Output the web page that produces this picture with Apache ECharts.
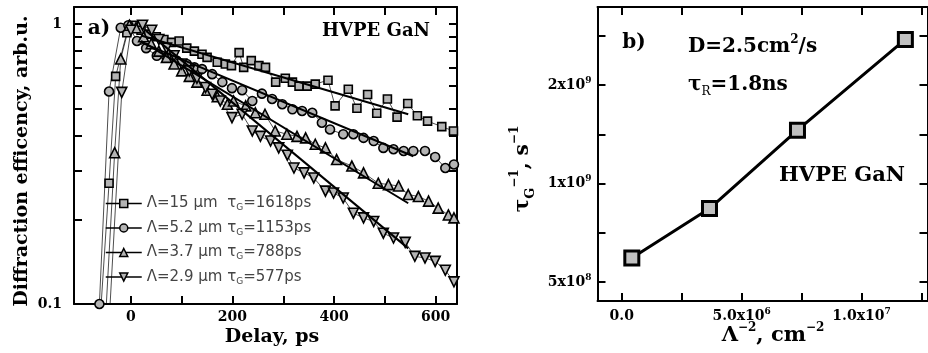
<!DOCTYPE html>
<html>
<head>
<meta charset="utf-8">
<script src="https://cdn.jsdelivr.net/npm/echarts@6/dist/echarts.min.js"></script>
<style>
  html, body { margin: 0; padding: 0; background: #fff; }
  #chart { width: 928px; height: 353px; }
</style>
</head>
<body>
<div id="chart"></div>
<script>
// panel a) : diffraction efficiency vs delay (ps), one series per grating period
const sqDelay = [-62, -43, -30, -8, 5, 20, 35, 50, 65, 80, 95, 110, 125, 140, 150, 170, 186, 198, 213, 222, 237, 252, 265, 285, 304, 318, 331, 347, 363, 388, 402, 428, 445, 466, 484, 505, 524, 545, 564, 584, 612, 635]
const sqSignal = [0.08, 0.27, 0.65, 0.93, 0.99, 0.95, 0.92, 0.9, 0.88, 0.86, 0.87, 0.82, 0.8, 0.78, 0.76, 0.73, 0.72, 0.71, 0.79, 0.7, 0.74, 0.71, 0.7, 0.62, 0.64, 0.62, 0.6, 0.6, 0.61, 0.63, 0.51, 0.585, 0.5, 0.56, 0.48, 0.54, 0.465, 0.52, 0.47, 0.45, 0.43, 0.415]

const ciDelay = [-62, -43, -20, -5, 12, 30, 51, 70, 90, 110, 125, 140, 160, 180, 199, 219, 239, 258, 278, 298, 318, 337, 357, 376, 392, 418, 438, 458, 478, 497, 517, 537, 556, 579, 599, 619, 636]
const ciSignal = [0.1, 0.574, 0.97, 0.99, 0.87, 0.82, 0.77, 0.76, 0.74, 0.72, 0.7, 0.69, 0.662, 0.62, 0.59, 0.58, 0.531, 0.564, 0.54, 0.517, 0.496, 0.489, 0.482, 0.444, 0.42, 0.404, 0.404, 0.392, 0.382, 0.361, 0.357, 0.352, 0.352, 0.352, 0.335, 0.306, 0.315]

const upDelay = [-55, -32, -20, -3, 10, 25, 40, 55, 70, 85, 100, 115, 130, 150, 170, 190, 202, 226, 245, 264, 284, 307, 327, 344, 363, 383, 405, 435, 458, 487, 507, 527, 546, 566, 586, 605, 625, 636]
const upSignal = [0.06, 0.347, 0.75, 0.99, 0.97, 0.9, 0.85, 0.8, 0.76, 0.72, 0.68, 0.65, 0.62, 0.58, 0.55, 0.517, 0.531, 0.51, 0.482, 0.476, 0.415, 0.404, 0.397, 0.392, 0.372, 0.361, 0.328, 0.311, 0.294, 0.27, 0.267, 0.264, 0.246, 0.242, 0.233, 0.22, 0.208, 0.203]

const dnDelay = [-50, -18, 0, 23, 41, 55, 70, 85, 100, 115, 130, 147, 160, 176, 199, 219, 239, 255, 275, 291, 308, 321, 341, 360, 383, 399, 418, 438, 458, 478, 497, 517, 540, 559, 579, 599, 619, 636]
const dnSignal = [0.05, 0.57, 0.95, 0.99, 0.95, 0.88, 0.82, 0.77, 0.72, 0.68, 0.64, 0.593, 0.561, 0.531, 0.463, 0.476, 0.415, 0.397, 0.382, 0.361, 0.34, 0.306, 0.294, 0.282, 0.253, 0.249, 0.239, 0.211, 0.203, 0.197, 0.179, 0.172, 0.166, 0.148, 0.146, 0.142, 0.132, 0.12]

// exponential fits, end points only
const sqFitDelay = [20, 546], sqFitSignal = [0.91, 0.476]
const ciFitDelay = [20, 556], ciFitSignal = [0.86, 0.337]
const upFitDelay = [20, 546], upFitSignal = [0.87, 0.229]
const dnFitDelay = [30, 546], dnFitSignal = [0.945, 0.158]

const periods = ['15', '5.2', '3.7', '2.9']
const gratingTimes = ['1618', '1153', '788', '577']

const delayTicks = [0, 100, 200, 300, 400, 500, 600]
const delayLabels = [0, 200, 400, 600]
const signalTicks = [0.1, 0.2, 0.3, 0.4, 0.5, 0.6, 0.7, 0.8, 0.9, 1]
const signalLabels = [0.1, 1]

// panel b) : grating decay rate vs inverse period squared
const invPeriodSq = [4.2e5, 3.66e6, 7.33e6, 1.183e7]
const decayRate = [6.22e8, 8.73e8, 1.271e9, 1.732e9]

const invTicks = [0, 2.5e6, 5e6, 7.5e6, 1e7, 1.25e7]
const invLabelValues = [0, 5e6, 1e7]
const invLabelTexts = ['0.0', '5.0x10^6', '1.0x10^7']
const rateTicks = [5e8, 7.5e8, 1e9, 1.25e9, 1.5e9, 1.75e9]
const rateLabelValues = [5e8, 1e9, 1.5e9]
const rateLabelTexts = ['5x10^8', '1x10^9', '2x10^9']

const SERIF = 'DejaVu Serif'
const SANS = 'DejaVu Sans'

const zip = (a, b) => a.map((v, i) => [v, b[i]])
const supText = s => {
  const i = s.indexOf('^')
  return i < 0 ? '{m|' + s + '}' : '{m|' + s.slice(0, i) + '}{p|' + s.slice(i + 1) + '}'
}
const tickRich = {
  m: { fontFamily: SERIF, fontWeight: 'bold', fontSize: 14, lineHeight: 18, color: '#000' },
  p: { fontFamily: SERIF, fontWeight: 'bold', fontSize: 9, lineHeight: 9, verticalAlign: 'top', color: '#000' },
}
const pickLabel = (vals, texts) => v => {
  const i = vals.findIndex(x => Math.abs(x - v) <= Math.abs(x) * 1e-6 + 1e-9)
  return i < 0 ? '' : supText(texts[i])
}

const lineBlack = { color: '#000', width: 2 }
const tickStyle = { inside: true, length: 8, lineStyle: { color: '#000', width: 2 } }

function frameAxis(grid, type, pos, min, max, ticks, labels, extra) {
  return Object.assign({
    gridIndex: grid, type: type, position: pos, min: min, max: max,
    axisLine: { onZero: false, lineStyle: lineBlack },
    axisTick: Object.assign({ customValues: ticks }, tickStyle),
    axisLabel: labels ? Object.assign({ customValues: labels, rich: tickRich }, extra) : { show: false },
    splitLine: { show: false }, minorTick: { show: false },
  }, {})
}

const dataItem = { color: '#b4b4b4', borderColor: '#000', borderWidth: 1.6 }
const dataLine = { color: '#000', width: 0.7 }
function dataSeries(name, delay, signal, symbol, size) {
  return {
    name: name, type: 'line', xAxisIndex: 0, yAxisIndex: 0,
    data: zip(delay, signal), symbol: symbol, symbolSize: size,
    itemStyle: dataItem, lineStyle: dataLine, z: 3,
  }
}
function fitSeries(delay, signal) {
  return {
    type: 'line', xAxisIndex: 0, yAxisIndex: 0, data: zip(delay, signal),
    symbol: 'none', lineStyle: { color: '#000', width: 2 }, z: 5, silent: true,
  }
}

const names = periods.map(p => 'Λ=' + p + ' μm')
const downTri = 'path://M0,0L10,0L5,10Z'

const chart = echarts.init(document.getElementById('chart'))
chart.setOption({
  animation: false,
  backgroundColor: '#fff',
  grid: [
    { left: 74, top: 7, width: 383, height: 297, outerBoundsMode: 'none' },
    { left: 597.5, top: 7, width: 330, height: 294, outerBoundsMode: 'none' },
  ],
  xAxis: [
    frameAxis(0, 'value', 'bottom', -112, 642, delayTicks, delayLabels,
      { margin: 4, formatter: v => '{m|' + v + '}' }),
    frameAxis(0, 'value', 'top', -112, 642, delayTicks, null),
    frameAxis(1, 'value', 'bottom', -1.011e6, 1.2753e7, invTicks, invLabelValues,
      { margin: 6, formatter: pickLabel(invLabelValues, invLabelTexts) }),
    frameAxis(1, 'value', 'top', -1.011e6, 1.2753e7, invTicks, null),
  ],
  yAxis: [
    frameAxis(0, 'log', 'left', 0.1, 1.15, signalTicks, signalLabels,
      { margin: 12, formatter: v => '{m|' + (v < 0.5 ? '0.1' : '1') + '}' }),
    frameAxis(0, 'log', 'right', 0.1, 1.15, signalTicks, null),
    frameAxis(1, 'value', 'left', 4.03e8, 1.897e9, rateTicks, rateLabelValues,
      { margin: 6, formatter: pickLabel(rateLabelValues, rateLabelTexts) }),
    frameAxis(1, 'value', 'right', 4.03e8, 1.897e9, rateTicks, null),
  ],
  legend: {
    data: names, orient: 'vertical', left: 100, top: 191,
    itemWidth: 36, itemHeight: 10, itemGap: 8, selectedMode: false,
    lineStyle: { width: 1.5, color: '#000' },
    itemStyle: { borderWidth: 1.5, borderColor: '#000' },
    textStyle: {
      fontFamily: SANS, fontSize: 15, color: '#444',
      rich: {
        t: { fontFamily: SANS, fontSize: 15, lineHeight: 18, color: '#444' },
        g: { fontFamily: SANS, fontSize: 9, lineHeight: 9, verticalAlign: 'bottom', color: '#444' },
      },
    },
    formatter: name => {
      const i = names.indexOf(name)
      const gap = i === 0 ? '  ' : ' '
      return '{t|' + name + gap + 'τ}{g|G}{t|=' + gratingTimes[i] + 'ps}'
    },
  },
  series: [
    dataSeries(names[0], sqDelay, sqSignal, 'rect', 8),
    dataSeries(names[1], ciDelay, ciSignal, 'circle', 9),
    dataSeries(names[2], upDelay, upSignal, 'triangle', 10),
    dataSeries(names[3], dnDelay, dnSignal, downTri, 10),
    fitSeries(sqFitDelay, sqFitSignal),
    fitSeries(ciFitDelay, ciFitSignal),
    fitSeries(upFitDelay, upFitSignal),
    fitSeries(dnFitDelay, dnFitSignal),
    {
      type: 'line', xAxisIndex: 2, yAxisIndex: 2, data: zip(invPeriodSq, decayRate),
      symbol: 'rect', symbolSize: 14,
      itemStyle: { color: '#c0c0c0', borderColor: '#000', borderWidth: 3 },
      lineStyle: { color: '#000', width: 3 }, z: 3,
    },
  ],
  graphic: [
    { type: 'text', x: 99, y: 29, style: { text: 'a)', font: 'bold 20px "DejaVu Serif"', fill: '#000', align: 'center', verticalAlign: 'middle' } },
    { type: 'text', x: 376, y: 31, style: { text: 'HVPE GaN', font: 'bold 18px "DejaVu Serif"', fill: '#000', align: 'center', verticalAlign: 'middle' } },
    { type: 'text', x: 22, y: 161, rotation: Math.PI / 2, style: { text: 'Diffraction efficency, arb.u.', font: 'bold 19px "DejaVu Serif"', fill: '#000', align: 'center', verticalAlign: 'middle' } },
    { type: 'text', x: 272, y: 337, style: { text: 'Delay, ps', font: 'bold 19px "DejaVu Serif"', fill: '#000', align: 'center', verticalAlign: 'middle' } },
    { type: 'text', x: 634, y: 43, style: { text: 'b)', font: 'bold 20px "DejaVu Serif"', fill: '#000', align: 'center', verticalAlign: 'middle' } },
    { type: 'text', x: 842, y: 176, style: { text: 'HVPE GaN', font: 'bold 21px "DejaVu Serif"', fill: '#000', align: 'center', verticalAlign: 'middle' } },
    {
      type: 'text', x: 688, y: 47, style: {
        text: '{m|D=2.5cm}{p|2}{m|/s}', align: 'left', verticalAlign: 'middle',
        rich: {
          m: { fontFamily: SERIF, fontWeight: 'bold', fontSize: 20, lineHeight: 26, fill: '#000' },
          p: { fontFamily: SERIF, fontWeight: 'bold', fontSize: 12, lineHeight: 12, verticalAlign: 'top', fill: '#000' },
        },
      },
    },
    {
      type: 'text', x: 688, y: 85, style: {
        text: '{m|τ}{b|R}{m|=1.8ns}', align: 'left', verticalAlign: 'middle',
        rich: {
          m: { fontFamily: SERIF, fontWeight: 'bold', fontSize: 20, lineHeight: 26, fill: '#000' },
          b: { fontFamily: SERIF, fontSize: 12, lineHeight: 12, verticalAlign: 'bottom', fill: '#000' },
        },
      },
    },
    {
      type: 'text', x: 523, y: 169, rotation: Math.PI / 2, style: {
        text: '{m|τ}{b|G}{p|−1}{m|, s}{p|−1}', align: 'center', verticalAlign: 'middle',
        rich: {
          m: { fontFamily: SERIF, fontWeight: 'bold', fontSize: 20, lineHeight: 28, fill: '#000' },
          b: { fontFamily: SERIF, fontWeight: 'bold', fontSize: 13, lineHeight: 13, verticalAlign: 'bottom', fill: '#000' },
          p: { fontFamily: SERIF, fontWeight: 'bold', fontSize: 12, lineHeight: 12, verticalAlign: 'top', fill: '#000' },
        },
      },
    },
    {
      type: 'text', x: 773, y: 336, style: {
        text: '{m|Λ}{p|−2}{m|, cm}{p|−2}', align: 'center', verticalAlign: 'middle',
        rich: {
          m: { fontFamily: SERIF, fontWeight: 'bold', fontSize: 21, lineHeight: 28, fill: '#000' },
          p: { fontFamily: SERIF, fontWeight: 'bold', fontSize: 12, lineHeight: 12, verticalAlign: 'top', fill: '#000' },
        },
      },
    },
  ],
})
</script>
</body>
</html>
